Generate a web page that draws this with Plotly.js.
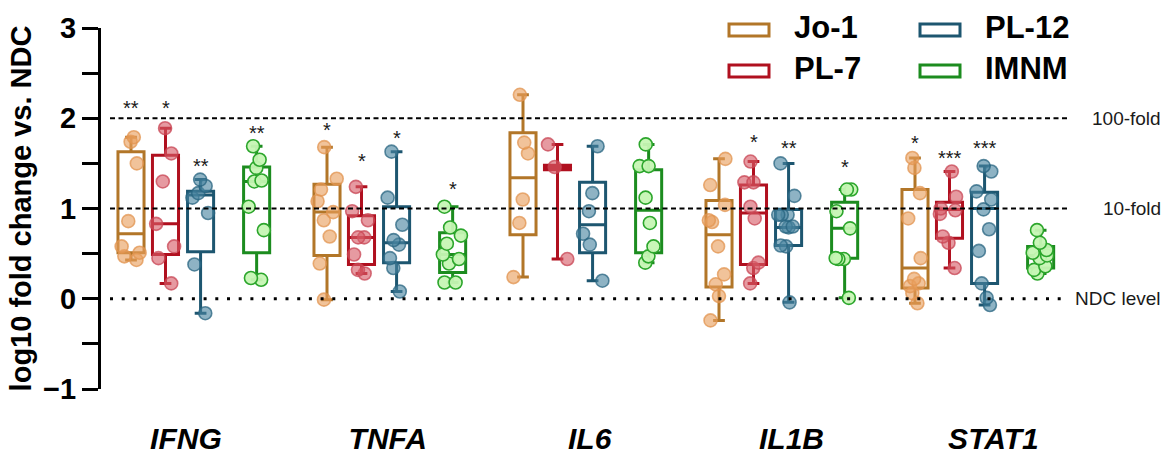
<!DOCTYPE html>
<html>
<head>
<meta charset="utf-8">
<script src="https://cdn.plot.ly/plotly-3.0.1.min.js"></script>
<style>html,body{margin:0;padding:0;background:#fff;}#chart{width:1171px;height:457px;}</style>
</head>
<body>
<div id="chart"></div>
<script>
// ---------------- DATA ----------------
const genes  = ['IFNG', 'TNFA', 'IL6', 'IL1B', 'STAT1'];
const groups = ['Jo-1', 'PL-7', 'PL-12', 'IMNM'];

// individual samples, log10 fold change vs NDC
const jo1_IFNG  = [1.79, 1.74, 1.50, 0.86, 0.58, 0.51, 0.47, 0.43];
const jo1_TNFA  = [1.68, 1.33, 1.21, 1.08, 0.96, 0.87, 0.69, 0.39, -0.01];
const jo1_IL6   = [2.26, 1.73, 1.61, 1.10, 0.84, 0.24];
const jo1_IL1B  = [1.55, 1.26, 1.04, 0.87, 0.85, 0.58, 0.27, 0.16, 0.03, -0.24];
const jo1_STAT1 = [1.56, 1.45, 1.17, 0.89, 0.45, 0.22, 0.17, 0.14, 0.06, -0.05];

const pl7_IFNG  = [1.89, 1.61, 1.30, 0.83, 0.58, 0.45, 0.17];
const pl7_TNFA  = [1.24, 0.97, 0.87, 0.68, 0.68, 0.49, 0.32, 0.28];
const pl7_IL6   = [1.71, 1.46, 0.44];
const pl7_IL1B  = [1.52, 1.29, 1.29, 1.02, 0.89, 0.40, 0.34, 0.17];
const pl7_STAT1 = [1.41, 1.13, 1.00, 0.98, 0.94, 0.69, 0.62, 0.34];

const pl12_IFNG  = [1.32, 1.25, 1.17, 1.12, 0.95, 0.38, -0.16];
const pl12_TNFA  = [1.63, 1.12, 0.82, 0.65, 0.60, 0.45, 0.34, 0.08];
const pl12_IL6   = [1.69, 1.17, 0.97, 0.72, 0.60, 0.20];
const pl12_IL1B  = [1.50, 1.14, 0.93, 0.93, 0.93, 0.80, 0.79, 0.80, 0.58, 0.59, -0.04];
const pl12_STAT1 = [1.47, 1.41, 1.19, 1.10, 0.99, 0.77, 0.53, 0.17, 0.01, -0.07];

const imnm_IFNG  = [1.69, 1.54, 1.45, 1.31, 1.30, 1.02, 0.76, 0.23, 0.21];
const imnm_TNFA  = [1.02, 0.79, 0.70, 0.61, 0.49, 0.44, 0.39, 0.18, 0.18];
const imnm_IL6   = [1.71, 1.47, 1.47, 1.12, 0.84, 0.58, 0.47, 0.40];
const imnm_IL1B  = [1.21, 1.21, 0.97, 0.78, 0.45, 0.44, 0.44, 0.01];
const imnm_STAT1 = [0.76, 0.62, 0.54, 0.51, 0.48, 0.45, 0.36, 0.32, 0.28];

// box statistics per gene: [min, q1, median, q3, max]
const jo1_box  = [[0.43, 0.51, 0.72, 1.63, 1.79], [-0.01, 0.48, 0.96, 1.27, 1.68], [0.24, 0.71, 1.34, 1.84, 2.26], [-0.24, 0.13, 0.71, 1.09, 1.55], [-0.05, 0.12, 0.34, 1.21, 1.56]];
const pl7_box  = [[0.17, 0.49, 0.83, 1.59, 1.89], [0.28, 0.38, 0.68, 0.92, 1.24], [0.44, 1.43, 1.46, 1.48, 1.71], [0.17, 0.38, 0.95, 1.26, 1.52], [0.34, 0.67, 0.99, 1.07, 1.41]];
const pl12_box = [[-0.16, 0.52, 1.15, 1.19, 1.32], [0.08, 0.40, 0.62, 1.02, 1.63], [0.20, 0.51, 0.82, 1.29, 1.69], [-0.04, 0.59, 0.79, 0.99, 1.50], [-0.07, 0.17, 1.00, 1.18, 1.47]];
const imnm_box = [[0.21, 0.51, 1.30, 1.46, 1.69], [0.18, 0.29, 0.49, 0.73, 1.02], [0.40, 0.51, 0.98, 1.43, 1.71], [0.01, 0.45, 0.78, 1.07, 1.21], [0.28, 0.34, 0.48, 0.58, 0.76]];

// significance marks vs NDC (text, value where the mark sits)
const jo1_sig  = ['**', '*', '', '', '*'];
const pl7_sig  = ['*', '*', '', '*', '***'];
const pl12_sig = ['**', '*', '', '**', '***'];
const imnm_sig = ['**', '*', '', '*', ''];
const jo1_sigY  = [2.17, 1.92, null, null, 1.78];
const pl7_sigY  = [2.17, 1.58, null, 1.79, 1.62];
const pl12_sigY = [1.53, 1.84, null, 1.73, 1.73];
const imnm_sigY = [1.89, 1.27, null, 1.51, null];

// reference levels
const refLevels = [2, 1, 0];
const refLabels = ['100-fold', '10-fold', 'NDC level'];

// ---------------- STYLE ----------------
const lineColors  = ['#B27628', '#B0101F', '#1D5670', '#1C8C1F'];
const pointFill   = ['rgba(233,158,92,0.62)', 'rgba(214,92,104,0.62)', 'rgba(72,132,160,0.62)', 'rgba(198,246,180,0.95)'];
const pointLine   = ['rgba(226,148,80,0.75)', 'rgba(200,70,84,0.75)', 'rgba(40,100,128,0.75)', '#2CA62C'];
const xOffset = [0, 0.176, 0.355, 0.641];   // position of each group inside a gene block
const boxW = 0.133;

const series = [
  [jo1_IFNG, jo1_TNFA, jo1_IL6, jo1_IL1B, jo1_STAT1],
  [pl7_IFNG, pl7_TNFA, pl7_IL6, pl7_IL1B, pl7_STAT1],
  [pl12_IFNG, pl12_TNFA, pl12_IL6, pl12_IL1B, pl12_STAT1],
  [imnm_IFNG, imnm_TNFA, imnm_IL6, imnm_IL1B, imnm_STAT1]
];
const boxes = [jo1_box, pl7_box, pl12_box, imnm_box];
const sigs  = [jo1_sig, pl7_sig, pl12_sig, imnm_sig];
const sigYs = [jo1_sigY, pl7_sigY, pl12_sigY, imnm_sigY];

const traces = [];
groups.forEach((g, k) => {
  const xs = genes.map((_, i) => i + xOffset[k]);
  traces.push({
    type: 'box', name: g, showlegend: false, hoverinfo: 'skip',
    x: xs,
    lowerfence: boxes[k].map(b => b[0]),
    q1: boxes[k].map(b => b[1]),
    median: boxes[k].map(b => b[2]),
    q3: boxes[k].map(b => b[3]),
    upperfence: boxes[k].map(b => b[4]),
    boxpoints: false,
    width: boxW,
    whiskerwidth: 0.45,
    line: {color: lineColors[k], width: 3},
    fillcolor: 'rgba(255,255,255,0)'
  });
});
groups.forEach((g, k) => {
  const px = [], py = [];
  series[k].forEach((arr, i) => arr.forEach(v => { px.push(i + xOffset[k]); py.push(v); }));
  traces.push({
    type: 'box', name: g + ' samples', showlegend: false, hoverinfo: 'skip',
    x: px, y: py,
    boxpoints: 'all', jitter: 0.85, pointpos: 0,
    width: boxW, whiskerwidth: 0,
    line: {color: 'rgba(0,0,0,0)', width: 0},
    fillcolor: 'rgba(0,0,0,0)',
    marker: {size: 13, color: pointFill[k], line: {color: pointLine[k], width: 1.6}}
  });
});

// ---------------- LAYOUT ----------------
const W = 1171, Hh = 457;
const mL = 101, mR = 70, mT = 28, mB = 68;
const plotW = W - mL - mR, plotH = Hh - mT - mB;
const pxX = px => (px - mL) / plotW;
const pxY = py => (mT + plotH - py) / plotH;
const unitPx = 196;
const x0 = -30 / unitPx;
const xRange = [x0, x0 + plotW / unitPx];

const shapes = [];
const annotations = [];
refLevels.forEach((lv, i) => {
  shapes.push({
    type: 'line', xref: 'paper', yref: 'y', x0: pxX(110), x1: pxX(lv === 0 ? 1062 : 1068), y0: lv, y1: lv,
    line: lv === 0 ? {color: '#000', width: 3, dash: '3px,8.7px'} : {color: '#000', width: 2, dash: '5px,3.5px'}
  });
  annotations.push({
    xref: 'paper', yref: 'y', x: pxX(1163), y: lv, xanchor: 'right', yanchor: 'middle',
    text: refLabels[i], showarrow: false,
    font: {family: 'Arial, Liberation Sans, sans-serif', size: 19, color: '#1a1a1a'}
  });
});

// significance stars
groups.forEach((g, k) => {
  sigs[k].forEach((s, i) => {
    if (!s) return;
    annotations.push({
      xref: 'x', yref: 'y', x: i + xOffset[k], y: sigYs[k][i], text: s, showarrow: false,
      xanchor: 'center', yanchor: 'middle', yshift: -5,
      font: {family: 'Arial, Liberation Sans, sans-serif', size: 20, color: '#1a1a1a'}
    });
  });
});

// legend (two columns, hollow rectangles)
const legCols = [729, 920];
const legRows = [30, 71];
groups.forEach((g, k) => {
  const col = k < 2 ? 0 : 1, row = k % 2;
  const lx = legCols[col], ly = legRows[row];
  shapes.push({
    type: 'rect', xref: 'paper', yref: 'paper',
    x0: pxX(lx), x1: pxX(lx + 40), y0: pxY(ly + 6), y1: pxY(ly - 6),
    line: {color: lineColors[k], width: 3}, fillcolor: 'rgba(0,0,0,0)'
  });
  annotations.push({
    xref: 'paper', yref: 'paper', x: pxX(lx + 63), y: pxY(ly - 3), xanchor: 'left', yanchor: 'middle',
    text: g, showarrow: false,
    font: {family: 'Arial, Liberation Sans, sans-serif', size: 31, weight: 'bold', color: '#000'}
  });
});

const layout = {
  width: W, height: Hh,
  margin: {l: mL, r: mR, t: mT, b: mB},
  paper_bgcolor: '#fff', plot_bgcolor: '#fff',
  showlegend: false,
  boxmode: 'overlay',
  font: {family: 'Arial, Liberation Sans, sans-serif', color: '#000'},
  xaxis: {
    range: xRange, showgrid: false, zeroline: false, showline: false, ticks: '',
    tickvals: genes.map((_, i) => 0.28 + 1.03 * i), ticktext: genes,
    tickfont: {size: 30, weight: 'bold', style: 'italic', color: '#000'},
    ticklabelstandoff: 29
  },
  yaxis: {
    range: [-1, 3], showgrid: false, zeroline: false,
    showline: true, linewidth: 3, linecolor: '#000',
    ticks: 'outside', ticklen: 16, tickwidth: 3, tickcolor: '#000',
    tickvals: [-1, 0, 1, 2, 3],
    minor: {tickvals: [-0.5, 0.5, 1.5, 2.5], ticks: 'outside', ticklen: 16, tickwidth: 3, tickcolor: '#000'},
    tickfont: {size: 29, weight: 'bold', color: '#000'},
    title: {text: 'log10 fold change vs. NDC', font: {size: 29, weight: 'bold', color: '#000'}, standoff: 3}
  },
  shapes: shapes,
  annotations: annotations
};

Plotly.newPlot('chart', traces, layout, {staticPlot: true, displayModeBar: false});
</script>
</body>
</html>
